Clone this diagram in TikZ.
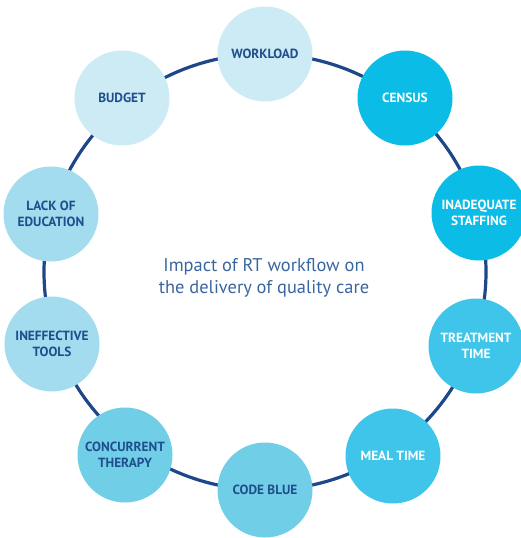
\documentclass[tikz,border=0pt]{standalone}
\usepackage{fontspec}
\setmainfont{PT Sans}
\definecolor{ringblue}{HTML}{1D4788}
\definecolor{labelblue}{HTML}{1F4E8C}
\definecolor{titleblue}{HTML}{3A66A0}
\definecolor{paleA}{HTML}{CDEBF5}
\definecolor{paleB}{HTML}{A2DCEE}
\definecolor{midC}{HTML}{70CEE7}
\definecolor{brightD}{HTML}{3EC5E9}
\definecolor{brightE}{HTML}{0BBCE6}
\begin{document}
\begin{tikzpicture}[x=1pt,y=-1pt,
  bub/.style={circle, minimum size=95pt, inner sep=0pt, align=center,
    font=\bfseries\fontsize{13.3}{15.8}\selectfont},
  darktext/.style={bub, text=labelblue},
  lighttext/.style={bub, text=white},
  ring/.style={draw=ringblue, line width=3.2pt}]
\useasboundingbox (0,0) rectangle (521,538);
% the ring that joins the factors
\coordinate (c) at (265,272);
\draw[ring] (c) ellipse [x radius=221pt, y radius=218pt];
% factors around the ring
\node[darktext, fill=paleA]    (workload)   at (265,54)  {WORKLOAD};
\node[lighttext, fill=brightE] (census)     at (405,98)  {CENSUS};
\node[lighttext, fill=brightE] (staffing)   at (479,213) {INADEQUATE\\STAFFING};
\node[lighttext, fill=brightD] (treatment)  at (476,346) {TREATMENT\\TIME};
\node[lighttext, fill=brightD] (meal)       at (393,456) {MEAL TIME};
\node[darktext, fill=midC]     (codeblue)   at (265,490) {CODE BLUE};
\node[darktext, fill=midC]     (concurrent) at (125,455) {CONCURRENT\\THERAPY};
\node[darktext, fill=paleB]    (tools)      at (52,344)  {INEFFECTIVE\\TOOLS};
\node[darktext, fill=paleB]    (education)  at (51,214)  {LACK OF\\EDUCATION};
\node[darktext, fill=paleA]    (budget)     at (122,98)  {BUDGET};
% central statement
\node[text=titleblue, align=center, font=\fontsize{18.4}{22.5}\selectfont] (title) at (264,278)
  {Impact of RT workflow on\\the delivery of quality care};
\end{tikzpicture}
\end{document}
